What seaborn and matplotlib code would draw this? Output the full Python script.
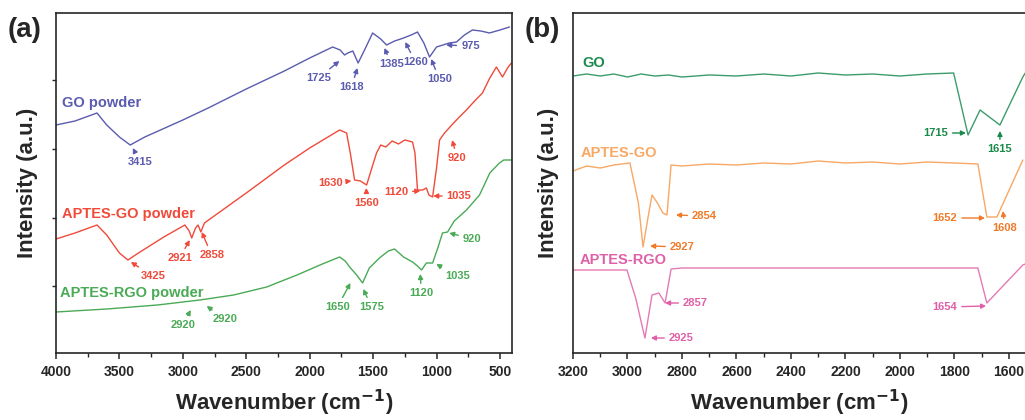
import matplotlib
matplotlib.use("Agg")
import matplotlib.pyplot as plt
from matplotlib.ticker import MultipleLocator
import numpy as np
import pandas as pd
import seaborn as sns

# ---------------- data (panel a) ----------------
go_powder_w = [4000, 3850, 3677, 3600, 3500, 3415, 3300, 3000, 2800, 2500, 2200, 2000,
               1819, 1760, 1725, 1700, 1660, 1618, 1560, 1504, 1440, 1394, 1330, 1260,
               1200, 1150, 1100, 1055, 1000, 900, 843, 780, 717, 650, 583, 500, 425]
go_powder_i = [228, 232, 240, 228, 216, 208, 216, 233, 245, 264, 282, 295,
               306, 303, 298, 300, 302, 290, 305, 320, 314, 308, 312, 315,
               318, 321, 310, 296, 306, 310, 311, 318, 323, 322, 320, 323, 326]

aptes_go_powder_w = [4000, 3850, 3677, 3600, 3500, 3433, 3350, 3150, 2984, 2950, 2930, 2900,
                     2880, 2858, 2830, 2500, 2200, 2000, 1764, 1709, 1680, 1646, 1600, 1551,
                     1510, 1473, 1440, 1400, 1350, 1300, 1250, 1189, 1170, 1150, 1110, 1080,
                     1060, 1031, 1000, 976, 937, 880, 820, 764, 700, 638, 580, 528, 480, 440, 410]
aptes_go_powder_i = [114, 120, 128, 118, 100, 93, 100, 116, 128, 122, 115, 125,
                     128, 121, 130, 160, 188, 205, 223, 220, 200, 173, 172, 168,
                     185, 200, 208, 206, 212, 209, 213, 211, 200, 163, 163, 165,
                     158, 156, 185, 213, 220, 228, 236, 243, 252, 260, 275, 286, 276, 285, 290]

aptes_rgo_powder_w = [4000, 3600, 3200, 2866, 2600, 2339, 2100, 1900, 1764, 1720, 1685, 1630,
                      1583, 1530, 1450, 1380, 1331, 1260, 1189, 1150, 1118, 1080, 1031, 990,
                      953, 913, 860, 764, 661, 580, 504, 470, 410]
aptes_rgo_powder_i = [41, 44, 48, 53, 58, 66, 78, 89, 96, 92, 86, 78,
                      70, 85, 95, 102, 104, 96, 91, 87, 83, 90, 90, 105,
                      120, 121, 132, 143, 158, 180, 190, 193, 193]

# ---------------- data (panel b) ----------------
go_w = [3200, 3150, 3100, 3050, 3000, 2950, 2900, 2850, 2800, 2700, 2600, 2500, 2400,
        2300, 2200, 2100, 2000, 1900, 1803, 1750, 1706, 1633, 1549, 1540]
go_i = [277, 279, 277, 279, 276, 279, 277, 278, 276, 278, 277, 279, 277,
        280, 278, 279, 277, 279, 280, 218, 243, 228, 276, 280]

aptes_go_w = [3200, 3150, 3100, 3050, 2991, 2960, 2943, 2925, 2910, 2890, 2870, 2855, 2840,
              2800, 2700, 2600, 2500, 2400, 2300, 2200, 2100, 2000, 1900, 1800, 1714,
              1681, 1644, 1549]
aptes_go_i = [182, 187, 185, 188, 190, 150, 106, 135, 158, 150, 140, 138, 188,
              187, 189, 188, 190, 189, 192, 190, 191, 189, 191, 190, 189,
              136, 136, 193]

aptes_rgo_w = [3200, 3100, 3002, 2970, 2936, 2910, 2885, 2862, 2840, 2800, 2400, 2000,
               1714, 1681, 1549, 1540]
aptes_rgo_i = [83, 83, 83, 55, 15, 58, 60, 50, 84, 85, 85, 85, 85, 50, 88, 89]

# peak labels: (text, tip wavenumber, tip intensity, text wavenumber, text intensity, ha)
peaks_a_go = [("3415", 3394, 205, 3339, 191, "center"), ("1725", 1766, 292, 1931, 275, "center"),
              ("1618", 1624, 285, 1671, 266, "center"), ("1385", 1411, 305, 1356, 289, "center"),
              ("1260", 1246, 311, 1168, 291, "center"), ("1050", 1042, 294, 979, 274, "center"),
              ("975", 924, 308, 806, 307, "left")]
peaks_a_aptes = [("3425", 3410, 91, 3237, 77, "center"), ("2921", 2946, 113, 3024, 95, "center"),
                 ("2858", 2851, 121, 2773, 98, "center"), ("1630", 1671, 172, 1742, 170, "right"),
                 ("1560", 1553, 165, 1553, 150, "center"), ("1120", 1128, 162, 1225, 161, "right"),
                 ("1035", 1026, 157, 920, 157, "left"), ("920", 877, 213, 837, 195, "center")]
peaks_a_rgo = [("2920", 2938, 43, 3001, 28, "center"), ("2920", 2812, 47, 2670, 34, "center"),
               ("1650", 1679, 70, 1781, 46, "center"), ("1575", 1577, 64, 1514, 46, "center"),
               ("1120", 1128, 79, 1120, 60, "center"), ("1035", 1002, 89, 837, 77, "center"),
               ("920", 900, 120, 719, 114, "center")]
peaks_b_go = [("1715", 1758, 220, 1824, 220, "right"), ("1615", 1633, 222, 1633, 204, "center")]
peaks_b_aptes = [("2854", 2822, 138, 2763, 137, "left"), ("2927", 2917, 107, 2844, 106, "left"),
                 ("1652", 1688, 135, 1790, 135, "right"), ("1608", 1622, 142, 1615, 125, "center")]
peaks_b_rgo = [("2857", 2862, 50, 2796, 50, "left"), ("2925", 2914, 15, 2848, 15, "left"),
               ("1654", 1684, 47, 1790, 46, "right")]

# ---------------- styling ----------------
sns.set_theme(style="ticks")
plt.rcParams['font.family'] = ['Liberation Sans', 'DejaVu Sans']
plt.rcParams['axes.linewidth'] = 1.2

C_GOP, C_APG, C_RGP = "#5b5bb0", "#f04a3a", "#4aaa55"
C_GO, C_AGO, C_ARG = "#3c9c6c", "#f7a865", "#e47ab4"
T_GO, T_AGO, T_ARG = "#1a8a4a", "#f07a28", "#e060a8"

fig = plt.figure(figsize=(10.25, 4.2), dpi=100)
ax1 = fig.add_axes([56/1025, 67/420, 456/1025, 340/420])
ax2 = fig.add_axes([573/1025, 67/420, 452/1025, 340/420])


def make_df(parts):
    frames = []
    for name, w, i in parts:
        frames.append(pd.DataFrame({"w": w, "i": i, "s": name}))
    return pd.concat(frames, ignore_index=True)


df_a = make_df([("GO powder", go_powder_w, go_powder_i),
                ("APTES-GO powder", aptes_go_powder_w, aptes_go_powder_i),
                ("APTES-RGO powder", aptes_rgo_powder_w, aptes_rgo_powder_i)])
df_b = make_df([("GO", go_w, go_i), ("APTES-GO", aptes_go_w, aptes_go_i),
                ("APTES-RGO", aptes_rgo_w, aptes_rgo_i)])

sns.lineplot(data=df_a, x="w", y="i", hue="s", ax=ax1, legend=False, linewidth=1.0,
             palette={"GO powder": C_GOP, "APTES-GO powder": C_APG, "APTES-RGO powder": C_RGP},
             estimator=None, sort=False)
sns.lineplot(data=df_b, x="w", y="i", hue="s", ax=ax2, legend=False, linewidth=1.0,
             palette={"GO": C_GO, "APTES-GO": C_AGO, "APTES-RGO": C_ARG},
             estimator=None, sort=False)


def annotate(ax, peaks, color):
    for txt, xw, yi, tx, ty, ha in peaks:
        ax.annotate(txt, xy=(xw, yi), xytext=(tx, ty), ha=ha, va="center",
                    fontsize=8, fontweight="bold", color=color,
                    arrowprops=dict(arrowstyle="-|>,head_length=0.35,head_width=0.18",
                                    color=color, lw=1.0, shrinkA=1, shrinkB=0))


annotate(ax1, peaks_a_go, C_GOP)
annotate(ax1, peaks_a_aptes, C_APG)
annotate(ax1, peaks_a_rgo, C_RGP)
annotate(ax2, peaks_b_go, T_GO)
annotate(ax2, peaks_b_aptes, T_AGO)
annotate(ax2, peaks_b_rgo, T_ARG)

lab = dict(fontsize=10.5, fontweight="bold", va="center", ha="left")
ax1.text(3953, 250, "GO powder", color=C_GOP, **lab)
ax1.text(3953, 139, "APTES-GO powder", color=C_APG, **lab)
ax1.text(3968, 60, "APTES-RGO powder", color=C_RGP, **lab)
ax2.text(3167, 290, "GO", color=T_GO, **lab)
ax2.text(3171, 200, "APTES-GO", color=C_AGO, **lab)
ax2.text(3174, 93, "APTES-RGO", color=T_ARG, **lab)

for ax in (ax1, ax2):
    ax.set_ylim(0, 340)
    ax.set_xlabel("Wavenumber (cm$^{\\mathbf{-1}}$)", fontsize=16, fontweight="bold", labelpad=6)
    ax.set_ylabel("Intensity (a.u.)", fontsize=16, fontweight="bold", labelpad=10)
    ax.tick_params(axis="x", which="major", direction="out", length=4, width=1.1,
                   labelsize=10, pad=5)
    ax.tick_params(axis="x", which="minor", direction="out", length=3, width=1.0)
    ax.tick_params(axis="y", which="both", direction="out", length=3, width=1.0, labelleft=False)
    for lbl in ax.get_xticklabels():
        lbl.set_fontweight("bold")

ax1.set_xlim(4000, 405)
ax1.xaxis.set_major_locator(MultipleLocator(500))
ax1.xaxis.set_minor_locator(MultipleLocator(250))
ax1.set_yticks([67, 135, 204, 273])

ax2.set_xlim(3200, 1541)
ax2.xaxis.set_major_locator(MultipleLocator(200))
ax2.xaxis.set_minor_locator(MultipleLocator(100))
ax2.set_yticks([])
ax2.spines["right"].set_visible(False)

for ax in (ax1, ax2):
    for lbl in ax.get_xticklabels():
        lbl.set_fontweight("bold")

fig.text(8/1025, 1 - 30/420, "(a)", fontsize=20, fontweight="bold", va="center", ha="left")
fig.text(525/1025, 1 - 30/420, "(b)", fontsize=20, fontweight="bold", va="center", ha="left")

fig.savefig("out.png", dpi=100, facecolor="white")
